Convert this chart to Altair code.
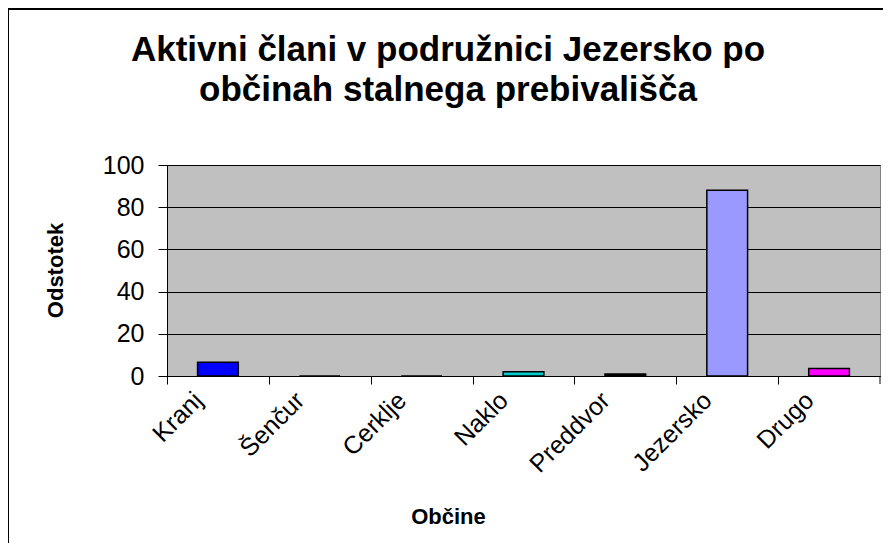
import altair as alt
import pandas as pd

categories = ["Kranj", "Šenčur", "Cerklje", "Naklo", "Preddvor", "Jezersko", "Drugo"]
values = [6.5, 0.0, 0.0, 2.0, 1.0, 88.0, 3.5]
colors = ["#0000FF", "#FF0000", "#FFFF00", "#00CCCC", "#000000", "#9999FF", "#FF00FF"]
y_ticks = [0, 20, 40, 60, 80, 100]

title_lines = ["Aktivni člani v podružnici Jezersko po", "občinah stalnega prebivališča"]
x_title = "Občine"
y_title = "Odstotek"

df = pd.DataFrame({"kategorija": categories, "vrednost": values})

W, H = 713, 211
FONT = "Liberation Sans"
half_step = W / len(categories) / 2

one = pd.DataFrame({"a": [0]})

frame = alt.Chart(one).mark_rect(
    fillOpacity=0, stroke="black", strokeWidth=2
).encode(
    x=alt.value(-159), x2=alt.value(900), y=alt.value(-156), y2=alt.value(600)
)

title = alt.Chart(one).mark_text(
    text=title_lines,
    font=FONT,
    fontSize=35,
    fontWeight="bold",
    color="black",
    align="center",
    baseline="alphabetic",
    lineHeight=40,
).encode(x=alt.value(281), y=alt.value(-104))

end_tick = alt.Chart(one).mark_rule(color="black", strokeWidth=1).encode(
    x=alt.value(W), y=alt.value(H), y2=alt.value(H + 8)
)

bars = alt.Chart(df).mark_bar(
    stroke="black", strokeWidth=1.5, width=alt.RelativeBandSize(0.4)
).encode(
    x=alt.X(
        "kategorija:N",
        sort=categories,
        scale=alt.Scale(paddingInner=0, paddingOuter=0),
        axis=alt.Axis(
            title=x_title,
            labelAngle=-45,
            labelAlign="right",
            labelBaseline="middle",
            labelFontSize=25,
            labelColor="black",
            labelPadding=12,
            tickSize=8,
            tickColor="black",
            domainColor="black",
            tickOffset=-half_step,
            labelOffset=half_step - 20,
            titleX=281,
            titleY=140,
            titleAlign="center",
            titleBaseline="middle",
            titleFontSize=22,
            titleFontWeight="bold",
            titleColor="black",
            grid=False,
        ),
    ),
    y=alt.Y(
        "vrednost:Q",
        scale=alt.Scale(domain=[0, 100]),
        axis=alt.Axis(
            title=y_title,
            values=y_ticks,
            labelFontSize=25,
            labelColor="black",
            labelPadding=14,
            tickSize=9,
            tickColor="black",
            domainColor="black",
            gridColor="black",
            gridWidth=1,
            gridOpacity=1,
            titleX=-112,
            titleY=105,
            titleAngle=270,
            titleAlign="center",
            titleBaseline="middle",
            titleFontSize=22,
            titleFontWeight="bold",
            titleColor="black",
        ),
    ),
    color=alt.Color(
        "kategorija:N",
        scale=alt.Scale(domain=categories, range=colors),
        legend=None,
    ),
)

chart = alt.layer(frame, title, bars, end_tick).properties(
    width=W,
    height=H,
    autosize=alt.AutoSizeParams(type="none"),
    padding={"left": 159, "top": 157, "right": 3, "bottom": 167},
).configure(
    font=FONT,
    background="white",
).configure_view(
    fill="#C0C0C0",
    stroke="#808080",
    strokeWidth=1,
)

chart.save("out.html", embed_options={"renderer": "svg", "actions": False})
